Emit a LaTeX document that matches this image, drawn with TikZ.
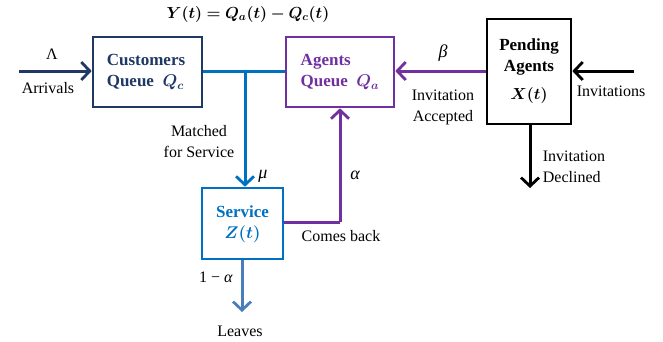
\RequirePackage{fix-cm}
\documentclass[tikz,border=0pt]{standalone}
\usepackage{amsmath,bm}
\usepackage{fontspec}
\setmainfont{Liberation Serif}
\usetikzlibrary{arrows.meta}
\definecolor{navy}{HTML}{1F3864}
\definecolor{mblue}{HTML}{0070C0}
\definecolor{mpurple}{HTML}{7030A0}
\definecolor{steel}{HTML}{4A7EBB}
\begin{document}
\begin{tikzpicture}[x=1pt,y=-1pt,
  box/.style={draw,line width=2.6pt,minimum width=#1,inner sep=0pt},
  lbl/.style={font=\fontsize{16}{21}\selectfont,align=center,inner sep=0pt},
  glbl/.style={font=\fontsize{18}{21}\selectfont\itshape,inner sep=0pt},
  btxt/.style={font=\fontsize{17}{21}\selectfont\bfseries,align=left,inner sep=0pt},
  arr/.style={line width=3pt,-{Straight Barb[length=8.5pt,width=18pt,line width=2.8pt]}},
  ln/.style={line width=3pt}]
\useasboundingbox (0,0) rectangle (663,341);
% boxes
\node[box=109pt,minimum height=70pt,draw=navy] (cq) at (147.5,72) {};
\node[box=108pt,minimum height=70pt,draw=mpurple] (aq) at (340,72) {};
\node[box=84pt,minimum height=105pt,draw=black] (pa) at (529,71.5) {};
\node[box=81pt,minimum height=71pt,draw=mblue] (sv) at (242.5,223.5) {};
% box texts
\node[btxt,text=navy] (cqt) at (146,72) {Customers\\Queue \ $\bm{Q_c}$};
\node[btxt,text=mpurple] (aqt) at (340,72) {Agents\\Queue \ $\bm{Q_a}$};
\node[btxt,align=center] (pat) at (529,57) {Pending\\Agents};
\node[lbl] (pax) at (529,95) {$\bm{X(t)}$};
\node[btxt,align=center,text=mblue] (svt) at (242.5,224) {Service\\$\bm{Z(t)}$};
\node[lbl] (yt) at (248,14) {$\bm{Y(t)=Q_a(t)-Q_c(t)}$};
% coordinates
\coordinate (arrs) at (19,71);
\coordinate (junc) at (245,71);
\coordinate (cb) at (340,222);
\coordinate (invs) at (634,71);
\coordinate (decl) at (530,188);
\coordinate (lv) at (242,312);
% connectors
\draw[arr,navy] (arrs) -- (cq.west |- arrs);
\draw[ln,mblue] (cq.east |- junc) -- (aq.west |- junc);
\draw[arr,mblue] (junc) -- (junc |- sv.north);
\draw[ln,mpurple] (sv.east |- cb) -- (cb);
\draw[arr,mpurple] (cb) -- (aq.south);
\draw[arr,mpurple] (pa.west |- junc) -- (aq.east |- junc);
\draw[arr,black] (invs) -- (pa.east |- invs);
\draw[arr,black] (decl |- pa.south) -- (decl);
\draw[arr,steel] (sv.south -| lv) -- (lv);
% labels
\node[lbl] (lam) at (52,54) {Λ};
\node[lbl] (arrl) at (48,88) {Arrivals};
\node[lbl] (match) at (199,142) {Matched\\for Service};
\node[glbl] (mu) at (263,176) {μ};
\node[glbl] (al) at (355,175) {α};
\node[lbl] (comes) at (341,236) {Comes back};
\node[glbl] (beta) at (443,53) {β};
\node[lbl] (acc) at (443,107) {Invitation\\Accepted};
\node[lbl] (invl) at (611,91) {Invitations};
\node[lbl,align=left] (decll) at (574,167) {Invitation\\Declined};
\node[lbl] (oma) at (216,277) {1 − \textit{α}};
\node[lbl] (leaves) at (240,331) {Leaves};
\end{tikzpicture}
\end{document}
